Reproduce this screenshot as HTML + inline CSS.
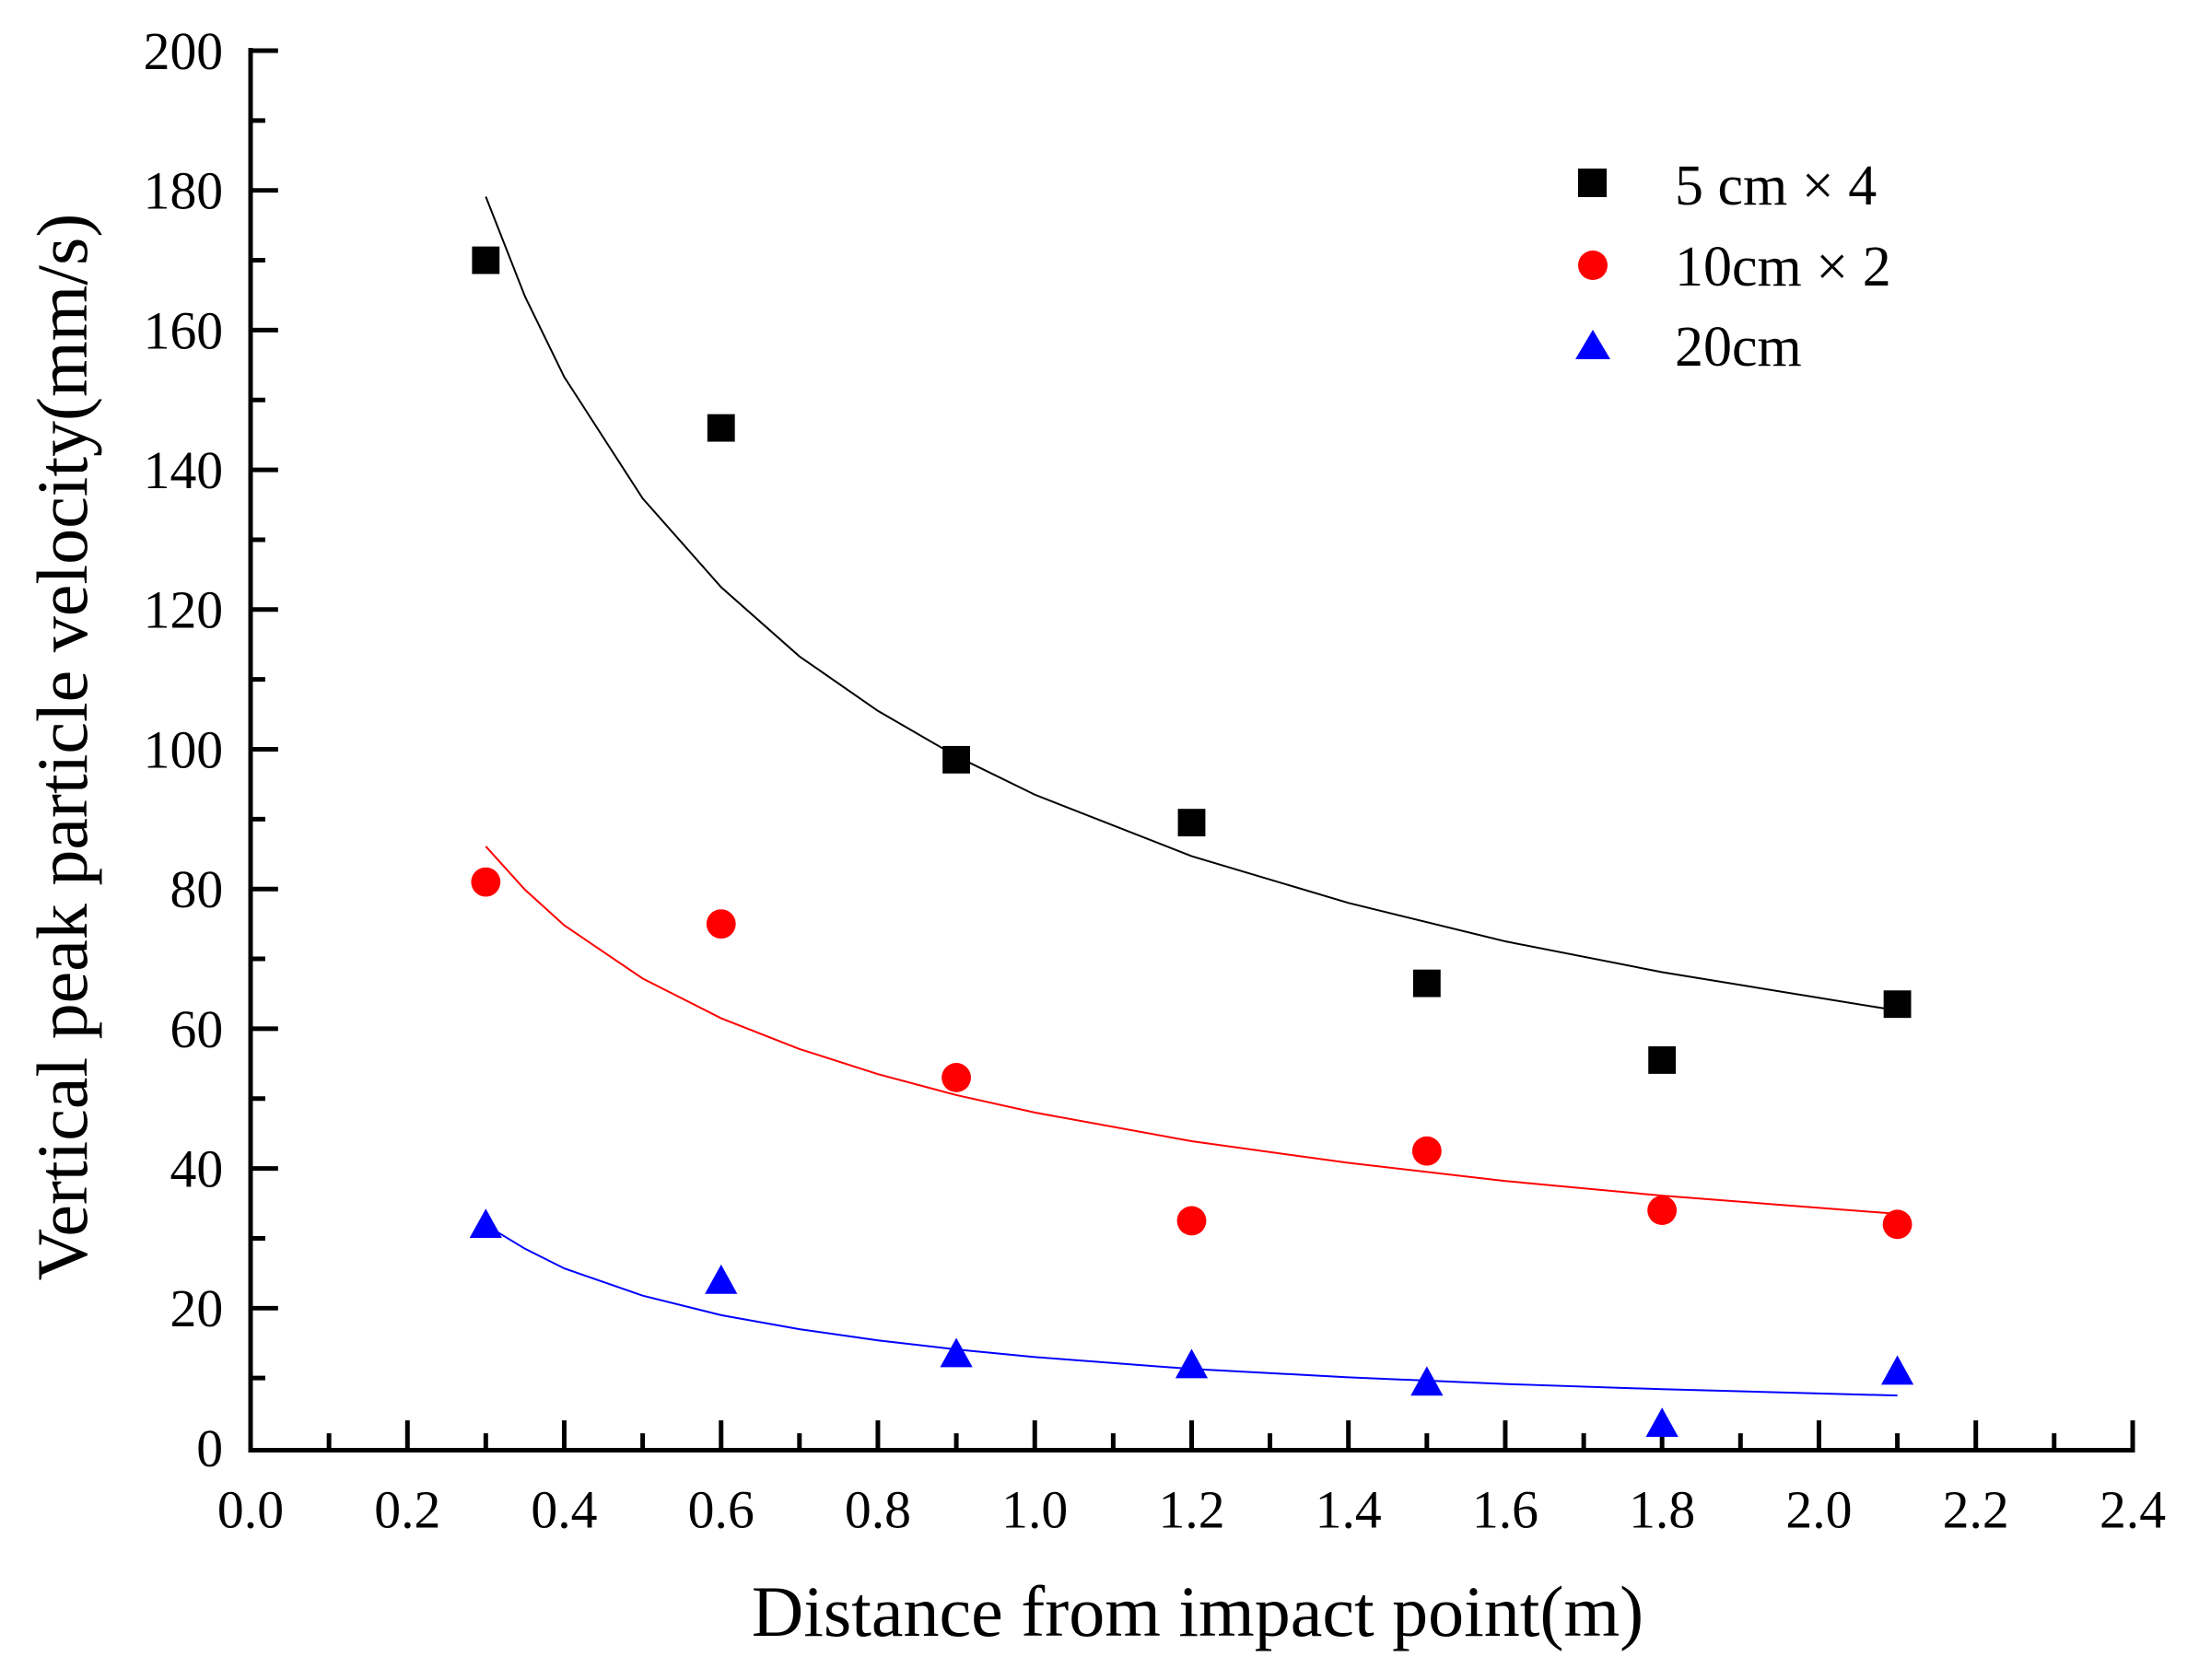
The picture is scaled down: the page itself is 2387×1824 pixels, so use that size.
<!DOCTYPE html>
<html><head><meta charset="utf-8"><style>
html,body{margin:0;padding:0;background:#fff;}
svg{display:block;font-family:"Liberation Serif",serif;}
</style></head><body>
<svg width="2387" height="1824" viewBox="0 0 2387 1824" xmlns="http://www.w3.org/2000/svg">
<rect width="2387" height="1824" fill="#fff"/>
<g transform="matrix(0.99465 0 0 0.99541 1.455 0.25)">
<g stroke="#000" stroke-width="5" fill="none">
<path d="M272 52 V1581.5 H2328.5"/>
<path d="M443.2 1579v-30M614.3 1579v-30M785.5 1579v-30M956.6 1579v-30M1127.8 1579v-30M1299 1579v-30M1470.1 1579v-30M1641.3 1579v-30M1812.4 1579v-30M1983.6 1579v-30M2154.8 1579v-30M2326 1579v-30"/>
<path d="M357.6 1579v-16M528.7 1579v-16M699.9 1579v-16M871 1579v-16M1042.2 1579v-16M1213.4 1579v-16M1384.5 1579v-16M1555.7 1579v-16M1726.9 1579v-16M1898 1579v-16M2069.2 1579v-16M2240.3 1579v-16"/>
<path d="M272 1426.6h30M272 1274.2h30M272 1121.8h30M272 969.4h30M272 817h30M272 664.6h30M272 512.2h30M272 359.8h30M272 207.4h30M272 55h30"/>
<path d="M272 1502.8h16M272 1350.4h16M272 1198h16M272 1045.6h16M272 893.2h16M272 740.8h16M272 588.4h16M272 436h16M272 283.6h16M272 131.2h16"/>
</g>
<g font-size="58" fill="#000" text-anchor="middle">
<text x="272" y="1666">0.0</text><text x="443.2" y="1666">0.2</text><text x="614.3" y="1666">0.4</text><text x="785.5" y="1666">0.6</text><text x="956.6" y="1666">0.8</text><text x="1127.8" y="1666">1.0</text><text x="1299" y="1666">1.2</text><text x="1470.1" y="1666">1.4</text><text x="1641.3" y="1666">1.6</text><text x="1812.4" y="1666">1.8</text><text x="1983.6" y="1666">2.0</text><text x="2154.8" y="1666">2.2</text><text x="2326" y="1666">2.4</text>
</g>
<g font-size="58" fill="#000" text-anchor="end">
<text x="242" y="1599">0</text><text x="242" y="1446.6">20</text><text x="242" y="1294.2">40</text><text x="242" y="1141.8">60</text><text x="242" y="989.4">80</text><text x="242" y="837">100</text><text x="242" y="684.6">120</text><text x="242" y="532.2">140</text><text x="242" y="379.8">160</text><text x="242" y="227.4">180</text><text x="242" y="75">200</text>
</g>
<g fill="none" stroke-width="2">
<path stroke="#000" d="M528.7,214.2 L571.5,323.2 614.3,410.9 699.9,543.4 785.5,640.2 871,715.7 956.6,775.1 1042.2,824.6 1127.8,866.5 1299,933.6 1470.1,984.6 1641.3,1026.5 1812.4,1060.1 2069.2,1102"/>
<path stroke="#f00" d="M528.7,922.9 L571.5,970.2 614.3,1009 699.9,1067 785.5,1110.4 871,1143.9 956.6,1171.3 1042.2,1194.2 1127.8,1213.2 1299,1244.5 1470.1,1268.1 1641.3,1287.9 1812.4,1303.9 2069.2,1323.7"/>
<path stroke="#00f" d="M528.7,1335.9 L571.5,1361.8 614.3,1383.2 699.9,1412.9 785.5,1434.2 871,1449.5 956.6,1461.7 1042.2,1471.6 1127.8,1479.9 1299,1492.9 1470.1,1502 1641.3,1509.3 1812.4,1515 2069.2,1521.9"/>
</g>
<g fill="#000">
<rect x="513.7" y="268.6" width="30" height="30"/><rect x="770.5" y="451.5" width="30" height="30"/><rect x="1027.2" y="813.4" width="30" height="30"/><rect x="1284" y="882" width="30" height="30"/><rect x="1540.7" y="1057.3" width="30" height="30"/><rect x="1797.4" y="1141" width="30" height="30"/><rect x="2054.2" y="1080" width="30" height="30"/>
</g>
<g fill="#f00">
<circle cx="528.7" cy="961.8" r="16"/><circle cx="785.5" cy="1007.5" r="16"/><circle cx="1042.2" cy="1175.1" r="16"/><circle cx="1299" cy="1331.3" r="16"/><circle cx="1555.7" cy="1255.2" r="16"/><circle cx="1812.4" cy="1319.9" r="16"/><circle cx="2069.2" cy="1335.2" r="16"/>
</g>
<g fill="#00f">
<polygon points="528.7,1318 511,1350 546.4,1350"/><polygon points="785.5,1379 767.8,1411 803.2,1411"/><polygon points="1042.2,1459 1024.5,1491 1059.9,1491"/><polygon points="1299,1471 1281.3,1503 1316.7,1503"/><polygon points="1555.7,1490 1538,1522 1573.4,1522"/><polygon points="1812.4,1535 1794.7,1567 1830.1,1567"/><polygon points="2069.2,1478 2051.5,1510 2086.9,1510"/>
</g>
</g>
<text x="1300" y="1776" font-size="78" text-anchor="middle">Distance from impact point(m)</text>
<text transform="translate(94 811) rotate(-90)" font-size="78" text-anchor="middle">Vertical peak particle velocity(mm/s)</text>
<rect x="1713" y="183" width="31" height="31" fill="#000"/>
<circle cx="1729" cy="288" r="16" fill="#f00"/>
<polygon points="1729,358 1710,390 1748,390" fill="#00f"/>
<g font-size="62" fill="#000">
<text x="1818" y="222">5 cm × 4</text>
<text x="1818" y="310">10cm × 2</text>
<text x="1818" y="397">20cm</text>
</g>
</svg>
</body></html>
